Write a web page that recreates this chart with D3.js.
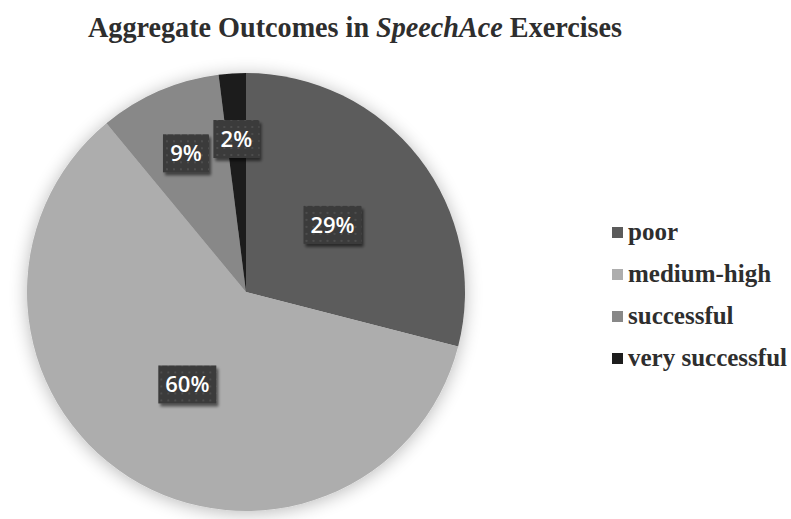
<!DOCTYPE html>
<html>
<head>
<meta charset="utf-8">
<script src="https://cdn.jsdelivr.net/npm/d3@7"></script>
<style>
  body { margin: 0; background: #ffffff; }
  svg { display: block; }
</style>
</head>
<body>
<div id="chart"></div>
<script>
// chart data
const categories = ['poor', 'medium-high', 'successful', 'very successful'];
const values = [29, 60, 9, 2];
const sliceColors = ['#5b5b5b', '#adadad', '#888888', '#1d1d1d'];
// label distance from centre, as a fraction of the radius (Excel moved the small ones out)
const labelRadius = [0.5, 0.5, 0.69, 0.7];

const width = 791, height = 519;
const cx = 246, cy = 292, R = 219;

const svg = d3.select('#chart').append('svg')
  .attr('width', width)
  .attr('height', height);

const defs = svg.append('defs');

// soft halo round the pie
const halo = defs.append('filter').attr('id', 'halo')
  .attr('x', '-20%').attr('y', '-20%').attr('width', '140%').attr('height', '140%');
halo.append('feGaussianBlur').attr('in', 'SourceAlpha').attr('stdDeviation', 9).attr('result', 'b');
halo.append('feOffset').attr('in', 'b').attr('dx', 0).attr('dy', 2).attr('result', 'o');
halo.append('feComponentTransfer').attr('in', 'o').attr('result', 's')
  .append('feFuncA').attr('type', 'linear').attr('slope', 0.28);
const hm = halo.append('feMerge');
hm.append('feMergeNode').attr('in', 's');
hm.append('feMergeNode').attr('in', 'SourceGraphic');

// shadow for the label boxes
const boxShadow = defs.append('filter').attr('id', 'boxShadow')
  .attr('x', '-30%').attr('y', '-30%').attr('width', '160%').attr('height', '160%');
boxShadow.append('feGaussianBlur').attr('in', 'SourceAlpha').attr('stdDeviation', 1.8).attr('result', 'b');
boxShadow.append('feOffset').attr('in', 'b').attr('dx', 2).attr('dy', 3).attr('result', 'o');
boxShadow.append('feComponentTransfer').attr('in', 'o').attr('result', 's')
  .append('feFuncA').attr('type', 'linear').attr('slope', 0.55);
const bm = boxShadow.append('feMerge');
bm.append('feMergeNode').attr('in', 's');
bm.append('feMergeNode').attr('in', 'SourceGraphic');

// dotted fill for the label boxes
const dots = defs.append('pattern').attr('id', 'dots')
  .attr('patternUnits', 'userSpaceOnUse').attr('width', 7).attr('height', 7);
dots.append('rect').attr('width', 7).attr('height', 7).attr('fill', '#3a3a3a');
dots.append('circle').attr('cx', 2).attr('cy', 2).attr('r', 1).attr('fill', '#555555');

// title
const title = svg.append('text')
  .attr('x', 88).attr('y', 37)
  .attr('font-family', '"Liberation Serif", "Times New Roman", serif')
  .attr('font-weight', 'bold')
  .attr('font-size', 29)
  .attr('fill', '#2e2e2e');
title.append('tspan').text('Aggregate Outcomes in ');
title.append('tspan').attr('font-style', 'italic').text('SpeechAce');
title.append('tspan').text(' Exercises');
title.attr('textLength', 534).attr('lengthAdjust', 'spacingAndGlyphs');

// pie
const pie = d3.pie().sort(null).value(d => d)(values);
const arc = d3.arc().innerRadius(0).outerRadius(R);

const g = svg.append('g').attr('transform', `translate(${cx},${cy})`);
g.append('g').attr('filter', 'url(#halo)')
  .selectAll('path')
  .data(pie)
  .join('path')
  .attr('d', arc)
  .attr('fill', (d, i) => sliceColors[i]);

// data labels
const labels = g.selectAll('g.lbl')
  .data(pie)
  .join('g')
  .attr('class', 'lbl')
  .attr('transform', (d, i) => {
    const r = R * labelRadius[i];
    const c = d3.arc().innerRadius(r).outerRadius(r).centroid(d);
    return `translate(${c[0]},${c[1]})`;
  });

labels.each(function(d, i) {
  const lg = d3.select(this);
  const txt = values[i] + '%';
  const w = txt.length === 2 ? 46 : 58;
  lg.append('rect')
    .attr('x', -w / 2).attr('y', -19)
    .attr('width', w).attr('height', 38)
    .attr('fill', 'url(#dots)')
    .attr('filter', 'url(#boxShadow)');
  lg.append('text')
    .attr('text-anchor', 'middle')
    .attr('dy', '0.36em')
    .attr('font-family', '"Open Sans", "Noto Sans", sans-serif')
    .attr('font-weight', 600)
    .attr('font-size', 22)
    .attr('fill', '#ffffff')
    .text(txt);
});

// legend
const legend = svg.append('g').attr('transform', 'translate(612,232)');
const rows = legend.selectAll('g')
  .data(categories)
  .join('g')
  .attr('transform', (d, i) => `translate(0,${i * 42})`);
rows.append('rect')
  .attr('x', 0).attr('y', -5)
  .attr('width', 11).attr('height', 11)
  .attr('fill', (d, i) => sliceColors[i]);
rows.append('text')
  .attr('x', 16).attr('y', 0)
  .attr('dy', '0.32em')
  .attr('font-family', '"Liberation Serif", "Times New Roman", serif')
  .attr('font-weight', 'bold')
  .attr('font-size', 25)
  .attr('fill', '#2e2e2e')
  .text(d => d);
</script>
</body>
</html>
